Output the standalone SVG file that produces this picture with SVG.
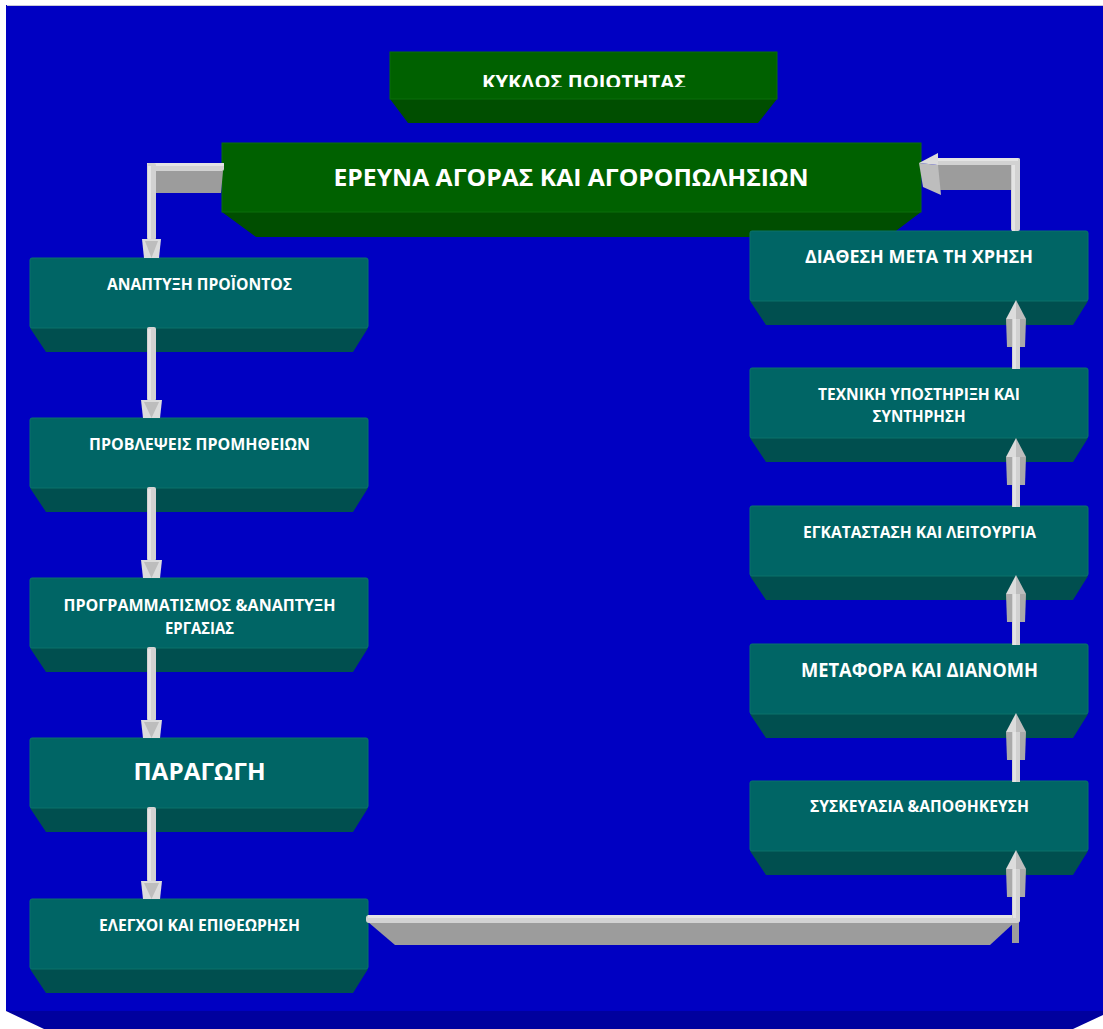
<svg xmlns="http://www.w3.org/2000/svg" width="1103" height="1029" viewBox="0 0 1103 1029">
  <defs>
    <style>
      .lbl { font-family: "Open Sans", "Liberation Sans", sans-serif; font-weight: bold; fill: #ffffff; text-anchor: middle; }
      .tealFront { fill: #006565; stroke: #0a726b; stroke-width: 1; }
      .tealBase { fill: #004f4f; }
      .greenFront { fill: #006100; stroke: #0a6e0a; stroke-width: 1; }
      .greenBase { fill: #004e00; }
      .shaft { fill: #d2d2d2; }
      .shine { fill: #e4e4e4; }
      .side { fill: #9c9c9c; }
      .flank { fill: #aaaaaa; }
      .headL { fill: #dcdcdc; }
      .headD { fill: #bdbdbd; }
    </style>
    <clipPath id="titleClip">
      <rect x="390" y="52" width="387" height="35"/>
    </clipPath>
  </defs>

  <!-- backdrop slab -->
  <g id="backdrop">
    <rect x="6" y="5" width="1097" height="1006" fill="#0000c2"/>
    <line x1="7" y1="5.5" x2="1103" y2="5.5" stroke="#c8c8d8" stroke-width="1"/>
    <polygon points="6,1011 1103,1011 1103,1015 1073,1029 44,1029" fill="#00009e"/>
  </g>

  <!-- title -->
  <g id="title">
    <polygon class="greenBase" points="390,99 777,99 758,123 408,123"/>
    <rect class="greenFront" x="390" y="52" width="387" height="47"/>
    <text class="lbl" x="584" y="89" font-size="19" textLength="204" lengthAdjust="spacingAndGlyphs" clip-path="url(#titleClip)">ΚΥΚΛΟΣ ΠΟΙΟΤΗΤΑΣ</text>
  </g>

  <!-- market research -->
  <g id="research">
    <polygon class="greenBase" points="222,212 921,212 888,237 256,237"/>
    <rect class="greenFront" x="222" y="143" width="699" height="69"/>
    <text class="lbl" x="571" y="186" font-size="24" textLength="475" lengthAdjust="spacingAndGlyphs">ΕΡΕΥΝΑ ΑΓΟΡΑΣ ΚΑΙ ΑΓΟΡΟΠΩΛΗΣΙΩΝ</text>
  </g>

  <!-- left column -->
  <g id="development">
    <polygon class="tealBase" points="30,328 368,328 353,352 46,352"/>
    <rect class="tealFront" x="30" y="258" width="338" height="70" rx="2"/>
    <text class="lbl" x="199.5" y="290" font-size="16" textLength="185" lengthAdjust="spacingAndGlyphs">ΑΝΑΠΤΥΞΗ ΠΡΟΪΟΝΤΟΣ</text>
  </g>
  <g id="supply-forecast">
    <polygon class="tealBase" points="30,488 368,488 353,512 46,512"/>
    <rect class="tealFront" x="30" y="418" width="338" height="70" rx="2"/>
    <text class="lbl" x="199.5" y="450" font-size="16" textLength="221" lengthAdjust="spacingAndGlyphs">ΠΡΟΒΛΕΨΕΙΣ ΠΡΟΜΗΘΕΙΩΝ</text>
  </g>
  <g id="planning">
    <polygon class="tealBase" points="30,648 368,648 353,672 46,672"/>
    <rect class="tealFront" x="30" y="578" width="338" height="70" rx="2"/>
    <text class="lbl" x="199.5" y="611" font-size="16" textLength="272" lengthAdjust="spacingAndGlyphs">ΠΡΟΓΡΑΜΜΑΤΙΣΜΟΣ &amp;ΑΝΑΠΤΥΞΗ</text>
    <text class="lbl" x="199.5" y="634" font-size="16" textLength="69" lengthAdjust="spacingAndGlyphs">ΕΡΓΑΣΙΑΣ</text>
  </g>
  <g id="production">
    <polygon class="tealBase" points="30,808 368,808 353,832 46,832"/>
    <rect class="tealFront" x="30" y="738" width="338" height="70" rx="2"/>
    <text class="lbl" x="199.5" y="780" font-size="23" textLength="132" lengthAdjust="spacingAndGlyphs">ΠΑΡΑΓΩΓΗ</text>
  </g>
  <g id="inspection">
    <polygon class="tealBase" points="30,969 368,969 353,993 46,993"/>
    <rect class="tealFront" x="30" y="899" width="338" height="70" rx="2"/>
    <text class="lbl" x="199.5" y="931" font-size="16" textLength="201" lengthAdjust="spacingAndGlyphs">ΕΛΕΓΧΟΙ ΚΑΙ ΕΠΙΘΕΩΡΗΣΗ</text>
  </g>

  <!-- right column -->
  <g id="disposal">
    <polygon class="tealBase" points="750,301 1088,301 1073,325 766,325"/>
    <rect class="tealFront" x="750" y="231" width="338" height="70" rx="2"/>
    <text class="lbl" x="919" y="263" font-size="17" textLength="228" lengthAdjust="spacingAndGlyphs">ΔΙΑΘΕΣΗ ΜΕΤΑ ΤΗ ΧΡΗΣΗ</text>
  </g>
  <g id="support">
    <polygon class="tealBase" points="750,438 1088,438 1073,462 766,462"/>
    <rect class="tealFront" x="750" y="368" width="338" height="70" rx="2"/>
    <text class="lbl" x="919" y="400" font-size="16" textLength="202" lengthAdjust="spacingAndGlyphs">ΤΕΧΝΙΚΗ ΥΠΟΣΤΗΡΙΞΗ ΚΑΙ</text>
    <text class="lbl" x="919" y="422" font-size="16" textLength="93" lengthAdjust="spacingAndGlyphs">ΣΥΝΤΗΡΗΣΗ</text>
  </g>
  <g id="installation">
    <polygon class="tealBase" points="750,576 1088,576 1073,600 766,600"/>
    <rect class="tealFront" x="750" y="506" width="338" height="70" rx="2"/>
    <text class="lbl" x="919.5" y="538" font-size="16" textLength="233" lengthAdjust="spacingAndGlyphs">ΕΓΚΑΤΑΣΤΑΣΗ ΚΑΙ ΛΕΙΤΟΥΡΓΙΑ</text>
  </g>
  <g id="distribution">
    <polygon class="tealBase" points="750,714 1088,714 1073,738 766,738"/>
    <rect class="tealFront" x="750" y="644" width="338" height="70" rx="2"/>
    <text class="lbl" x="919.5" y="677" font-size="20" textLength="237" lengthAdjust="spacingAndGlyphs">ΜΕΤΑΦΟΡΑ ΚΑΙ ΔΙΑΝΟΜΗ</text>
  </g>
  <g id="packaging">
    <polygon class="tealBase" points="750,851 1088,851 1073,875 766,875"/>
    <rect class="tealFront" x="750" y="781" width="338" height="70" rx="2"/>
    <text class="lbl" x="919.5" y="812" font-size="16" textLength="219" lengthAdjust="spacingAndGlyphs">ΣΥΣΚΕΥΑΣΙΑ &amp;ΑΠΟΘΗΚΕΥΣΗ</text>
  </g>

  <!-- connectors: 3-D block arrows -->
  <g id="connectors">
    <!-- research -> development -->
    <polygon class="side" points="153,171 223,171 221,193 153,193"/>
    <rect class="shaft" x="147" y="163" width="77" height="8" rx="2"/>
    <rect class="shine" x="147" y="163" width="77" height="3"/>
    <rect class="shaft" x="147" y="163" width="9" height="77" rx="2"/>
    <rect class="shine" x="148" y="166" width="3" height="74"/>
    <polygon class="headL" points="142,239 161,239 159,258 144,258"/>
    <polygon class="headD" points="145,241 158,241 151.5,258"/>

    <!-- left column down arrows -->
    <g>
      <rect class="shaft" x="147" y="327" width="9" height="74" rx="2"/>
      <rect class="shine" x="148" y="329" width="3" height="71"/>
      <polygon class="headL" points="141,400 162,400 160,418 143,418"/>
      <polygon class="headD" points="144,402 159,402 151.5,418"/>
    </g>
    <g>
      <rect class="shaft" x="147" y="487" width="9" height="74" rx="2"/>
      <rect class="shine" x="148" y="489" width="3" height="71"/>
      <polygon class="headL" points="141,560 162,560 160,578 143,578"/>
      <polygon class="headD" points="144,562 159,562 151.5,578"/>
    </g>
    <g>
      <rect class="shaft" x="147" y="647" width="9" height="74" rx="2"/>
      <rect class="shine" x="148" y="649" width="3" height="71"/>
      <polygon class="headL" points="141,720 162,720 160,738 143,738"/>
      <polygon class="headD" points="144,722 159,722 151.5,738"/>
    </g>
    <g>
      <rect class="shaft" x="147" y="807" width="9" height="75" rx="2"/>
      <rect class="shine" x="148" y="809" width="3" height="72"/>
      <polygon class="headL" points="141,881 162,881 160,899 143,899"/>
      <polygon class="headD" points="144,883 159,883 151.5,899"/>
    </g>

    <!-- inspection -> packaging -->
    <polygon class="side" points="368,922 1015,922 990,945 395,945"/>
    <rect class="side" x="1012" y="918" width="7" height="25"/>
    <rect class="shaft" x="366" y="915" width="654" height="8" rx="3"/>
    <rect class="shine" x="368" y="915" width="648" height="3"/>
    <polygon class="flank" points="1006,869 1026,869 1025,897 1007,897"/>
    <rect class="shaft" x="1012" y="868" width="8" height="54" rx="2"/>
    <rect class="shine" x="1013" y="868" width="3" height="50"/>
    <polygon class="headL" points="1016,850 1006,869 1016,869"/>
    <polygon class="headD" points="1016,850 1026,869 1016,869"/>

    <!-- right column up arrows -->
    <g>
      <polygon class="flank" points="1006,732 1026,732 1025,760 1007,760"/>
      <rect class="shaft" x="1012" y="731" width="8" height="51"/>
      <rect class="shine" x="1013" y="731" width="3" height="51"/>
      <polygon class="headL" points="1016,713 1006,732 1016,732"/>
      <polygon class="headD" points="1016,713 1026,732 1016,732"/>
    </g>
    <g>
      <polygon class="flank" points="1006,594 1026,594 1025,622 1007,622"/>
      <rect class="shaft" x="1012" y="593" width="8" height="52"/>
      <rect class="shine" x="1013" y="593" width="3" height="52"/>
      <polygon class="headL" points="1016,575 1006,594 1016,594"/>
      <polygon class="headD" points="1016,575 1026,594 1016,594"/>
    </g>
    <g>
      <polygon class="flank" points="1006,457 1026,457 1025,485 1007,485"/>
      <rect class="shaft" x="1012" y="456" width="8" height="51"/>
      <rect class="shine" x="1013" y="456" width="3" height="51"/>
      <polygon class="headL" points="1016,438 1006,457 1016,457"/>
      <polygon class="headD" points="1016,438 1026,457 1016,457"/>
    </g>
    <g>
      <polygon class="flank" points="1006,319 1026,319 1025,347 1007,347"/>
      <rect class="shaft" x="1012" y="318" width="8" height="51"/>
      <rect class="shine" x="1013" y="318" width="3" height="51"/>
      <polygon class="headL" points="1016,300 1006,319 1016,319"/>
      <polygon class="headD" points="1016,300 1026,319 1016,319"/>
    </g>

    <!-- disposal -> research -->
    <polygon class="side" points="938,165 1012,165 1012,190 938,190"/>
    <rect class="shaft" x="1011" y="158" width="9" height="73" rx="2"/>
    <rect class="shine" x="1012" y="161" width="3" height="70"/>
    <rect class="shaft" x="936" y="158" width="84" height="7" rx="2"/>
    <rect class="shine" x="936" y="158" width="82" height="3"/>
    <polygon class="headD" points="919,163 938,165 941,195 923,187"/>
    <polygon class="headL" points="919,163 938,153 938,165"/>
  </g>
</svg>
